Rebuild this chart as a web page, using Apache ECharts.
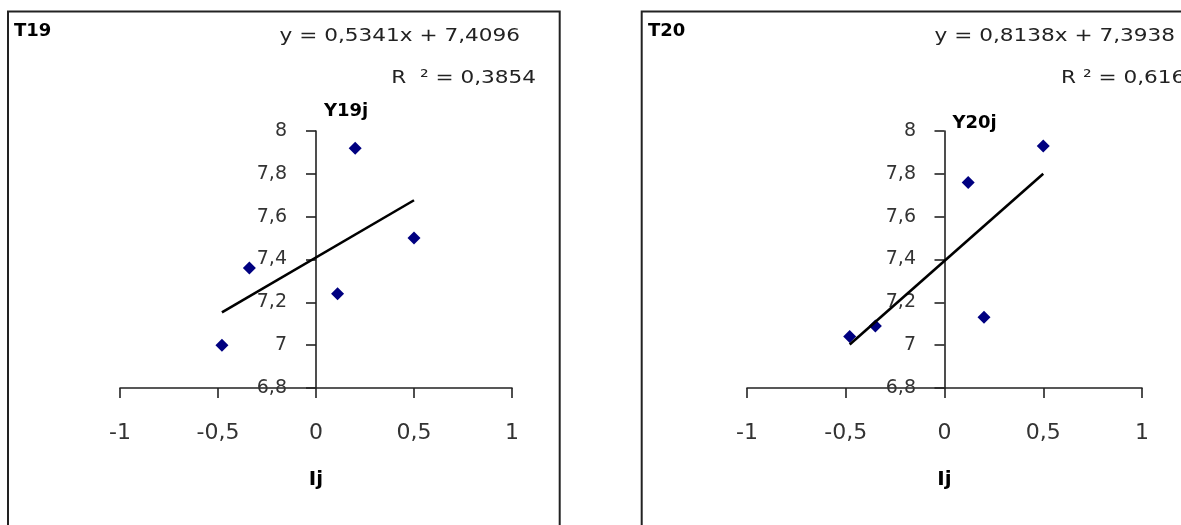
<!DOCTYPE html>
<html><head><meta charset="utf-8">
<script src="https://cdn.jsdelivr.net/npm/echarts@6/dist/echarts.min.js"></script>
<style>html,body{margin:0;padding:0;background:#fff}#c{width:1181px;height:525px}</style>
</head><body><div id="c"></div>
<script>
// ---- data ----
const ij19 = [-0.48, -0.34, 0.11, 0.20, 0.50];
const y19  = [7.00, 7.36, 7.24, 7.92, 7.50];
const ij20 = [-0.48, -0.35, 0.12, 0.20, 0.50];
const y20  = [7.04, 7.09, 7.76, 7.13, 7.93];
const panelTitles = ['T19', 'T20'];
const yNames = ['Y19j', 'Y20j'];
const xName = 'Ij';
const slopes = [0.5341, 0.8138];
const intercepts = [7.4096, 7.3938];
const equations = ['y = 0,5341x + 7,4096', 'y = 0,8138x + 7,3938'];
const r2Labels = ['R  \u00B2 = 0,3854', 'R \u00B2 = 0,6164'];
const xTicks = [-1, -0.5, 0, 0.5, 1];
const yTicks = [6.8, 7, 7.2, 7.4, 7.6, 7.8, 8];

const FONT = 'DejaVu Sans';
const fmt = v => String(Number(Number(v).toFixed(1))).replace('.', ',');
const pairs = (xs, ys) => xs.map((x, i) => [x, ys[i]]);
function trend(xs, k) {
  const lo = Math.min(...xs), hi = Math.max(...xs);
  return [[lo, slopes[k] * lo + intercepts[k]], [hi, slopes[k] * hi + intercepts[k]]];
}
const xsAll = [ij19, ij20], ysAll = [y19, y20];

const grids = [
  { left: 120, top: 131, width: 392, height: 257 },
  { left: 747, top: 131, width: 395, height: 257 }
];
const nameGaps = [20, 8];
// y labels sit just left of the zero line (which lies inside each grid)
const yLabelMargins = [-167, -169];

function xAxisFor(i) {
  return {
    type: 'value', gridIndex: i,
    min: xTicks[0], max: xTicks[xTicks.length - 1], interval: xTicks[1] - xTicks[0],
    name: xName, nameLocation: 'middle', nameGap: 92,
    nameTextStyle: { fontFamily: FONT, fontWeight: 'bold', fontSize: 20, color: '#000', verticalAlign: 'middle' },
    axisLine: { show: true, onZero: true, lineStyle: { color: '#222', width: 1.6 } },
    axisTick: { show: true, length: 10, inside: false, lineStyle: { color: '#222', width: 1.6 } },
    axisLabel: { margin: 34, fontFamily: FONT, fontSize: 22, color: '#333', formatter: fmt, showMinLabel: true, showMaxLabel: true },
    splitLine: { show: false }
  };
}
function yAxisFor(i) {
  return {
    type: 'value', gridIndex: i,
    min: yTicks[0], max: yTicks[yTicks.length - 1], interval: 0.2,
    name: yNames[i], nameLocation: 'end', nameGap: nameGaps[i],
    nameTextStyle: { fontFamily: FONT, fontWeight: 'bold', fontSize: 18, color: '#000', align: 'left', verticalAlign: 'middle', padding: [0, 0, 0, 8] },
    axisLine: { show: true, onZero: true, lineStyle: { color: '#222', width: 1.6 } },
    axisTick: { show: true, length: 10, inside: false, lineStyle: { color: '#222', width: 1.6 } },
    axisLabel: { margin: yLabelMargins[i], fontFamily: FONT, fontSize: 19, color: '#333', formatter: fmt, showMinLabel: true, showMaxLabel: true },
    splitLine: { show: false }
  };
}

const series = [];
[0, 1].forEach(i => {
  series.push({
    type: 'scatter', xAxisIndex: i, yAxisIndex: i,
    data: pairs(xsAll[i], ysAll[i]),
    symbol: 'diamond', symbolSize: 13,
    itemStyle: { color: '#000080', opacity: 1 }, z: 2
  });
  series.push({
    type: 'line', xAxisIndex: i, yAxisIndex: i,
    data: trend(xsAll[i], i), showSymbol: false, silent: true,
    lineStyle: { color: '#000', width: 2.6 }, z: 3
  });
});

const panelX = [8, 641.7];
const panelW = [551.7, 700];
const eqRight = [520, 1175];
const r2Right = [536, 1199];
const graphic = [];
[0, 1].forEach(i => {
  graphic.push({
    type: 'rect', shape: { x: panelX[i], y: 11.5, width: panelW[i], height: 600 },
    style: { fill: 'none', stroke: '#222', lineWidth: 2 }, z: 0, silent: true
  });
  graphic.push({
    type: 'text', x: eqRight[i], y: 36, scaleX: 1.2,
    style: { text: equations[i], fontFamily: FONT, fontSize: 18, fill: '#222', align: 'right', verticalAlign: 'middle' }
  });
  graphic.push({
    type: 'text', x: r2Right[i], y: 78, scaleX: 1.2,
    style: { text: r2Labels[i], fontFamily: FONT, fontSize: 18, fill: '#222', align: 'right', verticalAlign: 'middle' }
  });
});

const chart = echarts.init(document.getElementById('c'), null, { renderer: 'canvas' });
chart.setOption({
  backgroundColor: '#fff',
  animation: false,
  title: [0, 1].map(i => ({
    text: panelTitles[i], left: [14, 648][i], top: 22, padding: 0,
    textStyle: { fontFamily: FONT, fontWeight: 'bold', fontSize: 18, color: '#000' }
  })),
  grid: grids,
  xAxis: [xAxisFor(0), xAxisFor(1)],
  yAxis: [yAxisFor(0), yAxisFor(1)],
  series: series,
  graphic: graphic
});
</script>
</body></html>
